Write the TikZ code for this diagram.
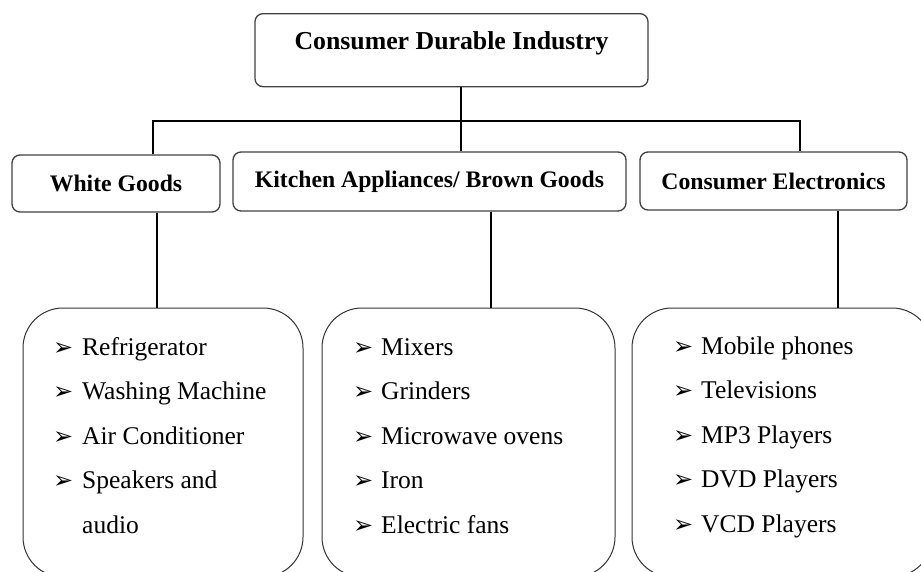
\documentclass[tikz,border=0pt]{standalone}
\usepackage{fontspec}
\setmainfont{Liberation Serif}
\newfontfamily\arrowfont{DejaVu Sans}
\usetikzlibrary{positioning,calc}

\newcommand{\pointer}{{\arrowfont\fontsize{24}{24}\selectfont\raisebox{0pt}{➢}}}

\tikzset{
  headbox/.style={draw=black!75, line width=1.3pt, rounded corners=8pt,
    font=\fontsize{23.7}{28}\selectfont\bfseries, inner sep=0pt},
  listbox/.style={draw=black!80, line width=1pt, rounded corners=40pt, inner sep=0pt},
  listtext/.style={anchor=base west, inner sep=0pt, font=\fontsize{25.5}{44.6}\selectfont},
  link/.style={black, line width=1.6pt}
}

\begin{document}
\begin{tikzpicture}[x=1pt, y=-1pt]
    \useasboundingbox (0,0) rectangle (921,571);
    \clip (0,0) rectangle (921,571);

    % Top box
    \node[headbox, anchor=north, minimum width=393pt, font=\fontsize{25.8}{30}\selectfont\bfseries,
      text height=20pt, text depth=21pt, inner ysep=16pt] (cdi) at (451.5,13) {Consumer Durable Industry};

    % Categories
    \node[headbox, minimum width=208pt, minimum height=57pt] (white) at (116,183.5) {White Goods};
    \node[headbox, minimum width=393pt, minimum height=59pt] (kitchen) at (429.5,181.5) {Kitchen Appliances/ Brown Goods};
    \node[headbox, minimum width=267pt, minimum height=58pt] (elec) at (773.5,181) {Consumer Electronics};

    % Bus lines
    \coordinate (busl) at (153,121);
    \coordinate (busm) at (461,121);
    \coordinate (busr) at (800,121);
    \draw[link] (white.north -| busl) -- (busl) -- (busr) -- (elec.north -| busr);
    \draw[link] (cdi.south -| busm) -- (kitchen.north -| busm);

    % List boxes
    \node[listbox, minimum width=280pt, minimum height=269pt] (lwhite) at (163,442.5) {};
    \node[listbox, minimum width=293pt, minimum height=269pt] (lkitchen) at (468.5,442.5) {};
    \node[listbox, minimum width=300pt, minimum height=269pt] (lelec) at (782,442.5) {};

    % Drops
    \coordinate (dw) at (157,0);
    \coordinate (dk) at (491,0);
    \coordinate (de) at (838,0);
    \draw[link] (white.south -| dw) -- (lwhite.north -| dw);
    \draw[link] (kitchen.south -| dk) -- (lkitchen.north -| dk);
    \draw[link] (elec.south -| de) -- (lelec.north -| de);

    % Items
    \node[listtext] (iwhite) at (53,355) {\begin{tabular}[t]{@{}p{29pt}@{}l@{}}
        \pointer & Refrigerator\\
        \pointer & Washing Machine\\
        \pointer & Air Conditioner\\
        \pointer & Speakers and\\
                 & audio
      \end{tabular}};
    \node[listtext] (ikitchen) at (353,355) {\begin{tabular}[t]{@{}p{28pt}@{}l@{}}
        \pointer & Mixers\\
        \pointer & Grinders\\
        \pointer & Microwave ovens\\
        \pointer & Iron\\
        \pointer & Electric fans
      \end{tabular}};
    \node[listtext] (ielec) at (673,354) {\begin{tabular}[t]{@{}p{28pt}@{}l@{}}
        \pointer & Mobile phones\\
        \pointer & Televisions\\
        \pointer & MP3 Players\\
        \pointer & DVD Players\\
        \pointer & VCD Players
      \end{tabular}};
\end{tikzpicture}
\end{document}
